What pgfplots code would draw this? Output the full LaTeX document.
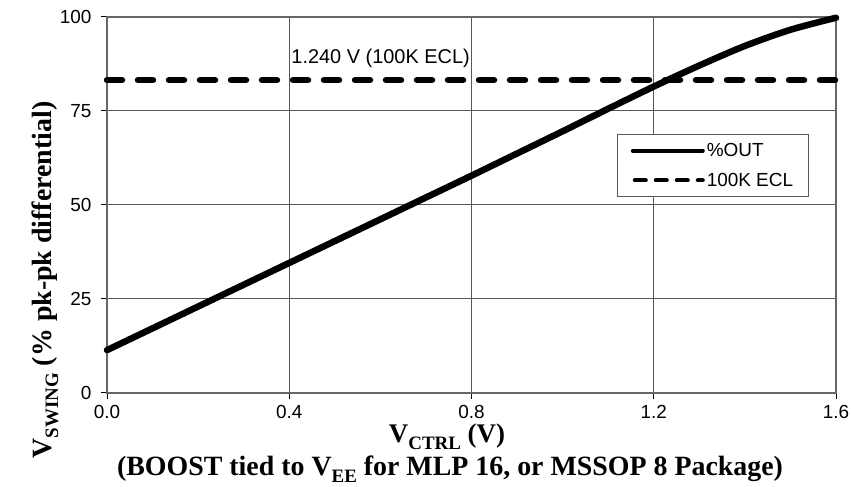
\documentclass[border=0pt]{standalone}
\usepackage{fontspec}
\setmainfont{Liberation Sans}
\newfontfamily\tnr{Liberation Serif}
\usepackage{pgfplots}
\pgfplotsset{compat=1.18}

\pgfplotstableread{
x y
0.0 11.4
0.1 17.2
0.2 23.0
0.3 28.8
0.4 34.6
0.5 40.4
0.6 46.2
0.7 52.0
0.8 57.8
0.9 63.7
1.0 69.6
1.1 75.6
1.2 81.5
1.3 87.1
1.4 92.3
1.5 96.6
1.6 99.8
}\outdata

\pgfplotstableread{
x y
0.0 83.2
1.6 83.2
}\ecldata

\newcommand{\sub}[1]{\raisebox{-7bp}{\fontsize{19}{19}\selectfont #1}}

\begin{document}
\begin{tikzpicture}
\begin{axis}[
    at={(107bp,94bp)}, anchor=south west,
    scale only axis,
    width=729bp, height=376bp,
    xmin=0, xmax=1.6,
    ymin=0, ymax=100,
    xtick={0,0.4,0.8,1.2,1.6},
    xticklabels={0.0,0.4,0.8,1.2,1.6},
    ytick={0,25,50,75,100},
    yticklabels={0,25,50,75,100},
    tick label style={font=\fontsize{19}{19}\selectfont},
    xticklabel style={inner sep=1bp, yshift=-5bp},
    yticklabel style={xshift=-6bp},
    grid=major,
    major grid style={draw=gray!70!black, line width=1bp},
    axis line style={draw=gray!80!black, line width=1.8bp},
    tick style={black, line width=1bp},
    tick align=outside,
    major tick length=6bp,
    xtick pos=bottom, ytick pos=left,
    legend style={
        at={(0.70,0.689)}, anchor=north west,
        draw=gray!70!black, line width=1bp,
        font=\fontsize{19}{19}\selectfont,
        inner xsep=13bp, inner ysep=7bp,
        row sep=11bp,
        cells={anchor=west},
    },
    clip=false,
]
\addplot[black, line width=6.5bp, line cap=round, smooth, tension=0.5,
    legend image code/.code={\draw[black, line width=4bp, line cap=round] (0bp,0bp) -- (70bp,0bp);}]
    table[x=x, y=y] {\outdata};
\addlegendentry{\%OUT}

\addplot[black, line width=6.5bp, line cap=round, dash pattern=on 15bp off 16bp,
    legend image code/.code={\draw[black, line width=4bp, line cap=round, dash pattern=on 11bp off 10bp] (2bp,0bp) -- (70bp,0bp);}]
    table[x=x, y=y] {\ecldata};
\addlegendentry{100K ECL}

\node[anchor=base west, inner sep=0pt, xshift=2bp, font=\fontsize{20}{20}\selectfont]
    at (axis cs:0.4,87.5) {1.240 V (100K ECL)};
\end{axis}

\node[anchor=base, inner sep=0pt, font=\tnr\bfseries\fontsize{27}{27}\selectfont]
    at (447bp,44bp) {V\sub{CTRL} (V)};
\node[anchor=base, inner sep=0pt, font=\tnr\bfseries\fontsize{28}{28}\selectfont]
    at (450bp,12bp) {(BOOST tied to V\sub{EE} for MLP 16, or MSSOP 8 Package)};
\node[anchor=base, inner sep=0pt, rotate=90, font=\tnr\bfseries\fontsize{28}{28}\selectfont]
    at (51bp,207bp) {V\sub{SWING} (\% pk-pk differential)};

\pgfresetboundingbox
\path (0,0) rectangle (851bp,487bp);
\end{tikzpicture}
\end{document}
